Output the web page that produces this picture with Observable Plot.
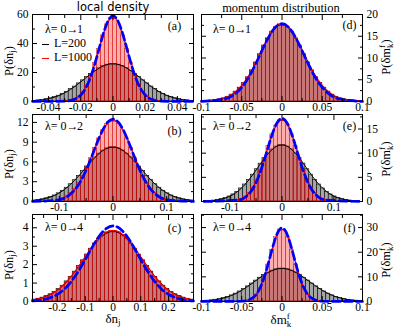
<!DOCTYPE html>
<html><head><meta charset="utf-8">
<script src="https://cdn.jsdelivr.net/npm/d3@7"></script>
<script src="https://cdn.jsdelivr.net/npm/@observablehq/plot@0.6"></script>
<style>
body{margin:0;background:#fff}
#wrap{position:relative;width:395px;height:332px;font-family:"Liberation Serif",serif;color:#000}
#wrap svg{position:absolute;left:0;top:0}
.t{position:absolute;white-space:nowrap;line-height:1}
.rot{transform:translate(-50%,-50%) rotate(-90deg)}
.ctr{transform:translate(-50%,-50%)}
.lft{transform:translate(0,-50%)}
sub{font-size:0.7em;vertical-align:-0.3em;line-height:0}
sup{font-size:0.7em;vertical-align:0.55em;line-height:0}
sub.k{margin-left:-0.33em}
.arr{letter-spacing:-1.5px}
.dash{display:inline-block;width:7px;height:1.5px;vertical-align:middle;margin-right:5px}
</style></head><body><div id="wrap"></div>
<script>
// ---------- data ----------
// panel (a) local density, lambda 0->1
const a_bin = 0.0025;
const a_L200_from = -0.05;
const a_L200 = [0.5,0.8,1.1,1.6,2.2,3.0,4.0,5.3,6.7,8.5,10.3,12.5,14.6,16.9,19.1,21.1,22.9,24.4,25.4,25.9,25.9,25.4,24.4,22.9,21.1,19.1,16.9,14.6,12.5,10.3,8.5,6.7,5.3,4.0,3.0,2.2,1.6,1.1,0.8,0.5];
const a_L1000_from = -0.03;
const a_L1000 = [0.35,0.8,1.8,3.6,6.6,11.4,18.0,26.6,36.2,45.6,53.2,57.4,57.4,53.2,45.6,36.2,26.6,18.0,11.4,6.6,3.6,1.8,0.8,0.35];
const a_thX = [-0.05,-0.03,-0.025,-0.02,-0.0175,-0.015,-0.0125,-0.01,-0.0075,-0.005,-0.0025,0,0.0025,0.005,0.0075,0.01,0.0125,0.015,0.0175,0.02,0.025,0.03,0.05];
const a_thY = [0,0.2,1.1,4.5,8.2,13.8,21.5,30.9,41.1,50.2,56.7,59,56.7,50.2,41.1,30.9,21.5,13.8,8.2,4.5,1.1,0.2,0];

// panel (b) local density, lambda 0->2
const b_bin = 0.0075;
const b_L200_from = -0.15;
const b_L200 = [0.16,0.24,0.34,0.49,0.68,0.92,1.24,1.63,2.09,2.62,3.23,3.89,4.60,5.32,6.02,6.68,7.26,7.73,8.06,8.23,8.23,8.06,7.73,7.26,6.68,6.02,5.32,4.60,3.89,3.23,2.62,2.09,1.63,1.24,0.92,0.68,0.49,0.34,0.24,0.16];
const b_L1000_from = -0.105;
const b_L1000 = [0.28,0.49,0.81,1.28,1.93,2.79,3.87,5.17,6.61,8.12,9.57,10.81,11.75,12.24,12.24,11.75,10.81,9.57,8.12,6.61,5.17,3.87,2.79,1.93,1.28,0.81,0.49,0.28];
const b_thX = [-0.15,-0.1,-0.08,-0.07,-0.06,-0.05,-0.04,-0.03,-0.02,-0.01,0,0.01,0.02,0.03,0.04,0.05,0.06,0.07,0.08,0.1,0.15];
const b_thY = [0,0.26,1.06,1.89,3.11,4.76,6.74,8.84,10.71,12.03,12.5,12.03,10.71,8.84,6.74,4.76,3.11,1.89,1.06,0.26,0];

// panel (c) local density, lambda 0->4
const c_bin = 0.0145;
const c_L200_from = -0.29;
const c_L200 = [0.10,0.15,0.21,0.29,0.39,0.51,0.67,0.86,1.09,1.34,1.62,1.92,2.23,2.54,2.85,3.13,3.38,3.58,3.72,3.79,3.79,3.72,3.58,3.38,3.13,2.85,2.54,2.23,1.92,1.62,1.34,1.09,0.86,0.67,0.51,0.39,0.29,0.21,0.15,0.10];
const c_L1000_from = -0.29;
const c_L1000 = [0.10,0.14,0.20,0.27,0.37,0.50,0.65,0.84,1.07,1.32,1.60,1.91,2.23,2.55,2.87,3.16,3.42,3.62,3.77,3.84,3.84,3.77,3.62,3.42,3.16,2.87,2.55,2.23,1.91,1.60,1.32,1.07,0.84,0.65,0.50,0.37,0.27,0.20,0.14,0.10];
const c_thX = [-0.29,-0.25,-0.225,-0.2,-0.175,-0.15,-0.125,-0.1,-0.075,-0.05,-0.025,0,0.025,0.05,0.075,0.1,0.125,0.15,0.175,0.2,0.225,0.25,0.29];
const c_thY = [0.03,0.10,0.21,0.39,0.67,1.09,1.63,2.27,2.94,3.54,3.95,4.1,3.95,3.54,2.94,2.27,1.63,1.09,0.67,0.39,0.21,0.10,0.03];

// panel (d) momentum distribution, lambda 0->1
const d_bin = 0.005;
const d_L200_from = -0.1;
const d_L200 = [0.1,0.15,0.22,0.33,0.48,0.7,1.05,1.5,2.2,3.1,4.2,5.5,7.1,8.9,10.8,12.7,14.4,15.9,17.0,17.6,17.6,17.0,15.9,14.4,12.7,10.8,8.9,7.1,5.5,4.2,3.1,2.2,1.5,1.05,0.7,0.48,0.33,0.22,0.15,0.1];
const d_L1000_from = -0.1;
const d_L1000 = [0.12,0.17,0.25,0.35,0.5,0.75,1.1,1.6,2.3,3.2,4.3,5.6,7.2,9.0,10.9,12.9,14.6,16.1,17.2,17.8,17.8,17.2,16.1,14.6,12.9,10.9,9.0,7.2,5.6,4.3,3.2,2.3,1.6,1.1,0.75,0.5,0.35,0.25,0.17,0.12];
const d_thX = [-0.1,-0.07,-0.06,-0.05,-0.04,-0.03,-0.02,-0.01,0,0.01,0.02,0.03,0.04,0.05,0.06,0.07,0.1];
const d_thY = [0.02,0.63,1.52,3.22,5.98,9.65,13.6,16.7,17.9,16.7,13.6,9.65,5.98,3.22,1.52,0.63,0.02];

// panel (e) momentum distribution, lambda 0->2
const e_bin = 0.0075;
const e_L200_from = -0.15;
const e_L200 = [0.07,0.13,0.20,0.32,0.48,0.71,1.04,1.46,2.01,2.70,3.52,4.47,5.55,6.67,7.83,8.94,9.93,10.76,11.36,11.66,11.66,11.36,10.76,9.93,8.94,7.83,6.67,5.55,4.47,3.52,2.70,2.01,1.46,1.04,0.71,0.48,0.32,0.20,0.13,0.07];
const e_L1000_from = -0.0975;
const e_L1000 = [0.13,0.27,0.54,1.00,1.76,2.91,4.51,6.57,8.97,11.53,13.91,15.75,16.77,16.77,15.75,13.91,11.53,8.97,6.57,4.51,2.91,1.76,1.00,0.54,0.27,0.13];
const e_thX = [-0.15,-0.08,-0.07,-0.06,-0.05,-0.04,-0.03,-0.02,-0.01,0,0.01,0.02,0.03,0.04,0.05,0.06,0.07,0.08,0.15];
const e_thY = [0,0.38,0.93,2.03,3.89,6.64,10.08,13.55,16.2,17.2,16.2,13.55,10.08,6.64,3.89,2.03,0.93,0.38,0];

// panel (f) momentum distribution, lambda 0->4
const f_bin = 0.005;
const f_L200_from = -0.1;
const f_L200 = [0.21,0.34,0.48,0.71,1.01,1.38,1.86,2.48,3.20,4.07,5.05,6.14,7.29,8.48,9.66,10.76,11.74,12.53,13.08,13.36,13.36,13.08,12.53,11.74,10.76,9.66,8.48,7.29,6.14,5.05,4.07,3.20,2.48,1.86,1.38,1.01,0.71,0.48,0.34,0.21];
const f_L1000_from = -0.05;
const f_L1000 = [0.2,0.53,1.3,2.8,5.5,9.6,15.0,20.9,26.1,29.2,29.2,26.1,20.9,15.0,9.6,5.5,2.8,1.3,0.53,0.2];
const f_thX = [-0.1,-0.05,-0.04,-0.035,-0.03,-0.025,-0.02,-0.015,-0.01,-0.005,0,0.005,0.01,0.015,0.02,0.025,0.03,0.035,0.04,0.05,0.1];
const f_thY = [0,0.1,0.78,1.82,3.83,7.18,12.0,17.9,23.8,28.2,29.9,28.2,23.8,17.9,12.0,7.18,3.83,1.82,0.78,0.1,0];

// tick values
const a_xTicks = [-0.04,-0.02,0,0.02,0.04], a_xMinor = [-0.03,-0.01,0.01,0.03];
const a_yTicks = [0,20,40,60], a_yMinor = [10,30,50];
const b_xTicks = [-0.1,0,0.1], b_xMinor = [-0.05,0.05];
const b_yTicks = [0,3,6,9,12], b_yMinor = [1.5,4.5,7.5,10.5];
const c_xTicks = [-0.2,-0.1,0,0.1,0.2], c_xMinor = [-0.25,-0.15,-0.05,0.05,0.15,0.25];
const c_yTicks = [0,1,2,3,4], c_yMinor = [0.5,1.5,2.5,3.5,4.5];
const d_xTicks = [-0.1,-0.05,0,0.05,0.1], d_xMinor = [-0.075,-0.025,0.025,0.075];
const d_yTicks = [0,5,10,15,20], d_yMinor = [2.5,7.5,12.5,17.5];
const e_xTicks = [-0.1,0,0.1], e_xMinor = [-0.05,0.05];
const e_yTicks = [0,5,10,15], e_yMinor = [2.5,7.5,12.5,17.5];
const f_xTicks = [-0.1,-0.05,0,0.05,0.1], f_xMinor = [-0.075,-0.025,0.025,0.075];
const f_yTicks = [0,10,20,30], f_yMinor = [5,15,25,35];

const lambdaLabels = ["λ= 0→1","λ= 0→2","λ= 0→4","λ= 0→1","λ= 0→2","λ= 0→4"];
const panelTags = ["(a)","(b)","(c)","(d)","(e)","(f)"];
const legendLabels = ["L=200","L=1000"];

// ---------- drawing ----------
const W = 395, H = 332;
const wrap = document.getElementById("wrap");

function makePanel(p) {
  const [L, T, R, B] = p.frame;
  const toBars = (h, from) => h.map((v, i) => ({x1: from + i * p.bin, x2: from + (i + 1) * p.bin, xc: from + (i + 0.5) * p.bin, y: v}));
  const b200 = toBars(p.h200, p.f200);
  const b1000 = toBars(p.h1000, p.f1000);
  const theory = p.thX.map((x, i) => ({x, y: p.thY[i]}));
  const yIn = p.side, yOut = p.side === "left" ? "right" : "left";
  return Plot.plot({
    width: W, height: H,
    marginLeft: L, marginTop: T, marginRight: W - R, marginBottom: H - B,
    x: {domain: p.xdom}, y: {domain: p.ydom},
    style: {background: "transparent", fontFamily: "Liberation Serif", fontSize: "11.5px", overflow: "visible", color: "#000"},
    marks: [
      Plot.rectY(b200, {x1: "x1", x2: "x2", y: "y", fill: "#a6a6a6", stroke: "#000", strokeWidth: 0.6}),
      Plot.rectY(b1000, {x1: "x1", x2: "x2", y: "y", fill: "#ff2a2a", fillOpacity: 0.38, stroke: "#d00000", strokeWidth: 0.6, strokeOpacity: 0.7}),
      Plot.line(b200, {x: "xc", y: "y", stroke: "#000", strokeWidth: 1, curve: "monotone-x"}),
      Plot.line(b1000, {x: "xc", y: "y", stroke: "#ff0000", strokeWidth: 1.2, curve: "monotone-x"}),
      Plot.line(theory, {x: "x", y: "y", stroke: "#0000ff", strokeWidth: 2.7, strokeDasharray: "8,4", curve: "monotone-x"}),
      Plot.frame({stroke: "#000"}),
      Plot.axisX(p.xt, {anchor: "bottom", tickSize: -5, tickPadding: 6, tickFormat: d => String(d), label: null}),
      Plot.axisX(p.xt, {anchor: "top", tickSize: -5, fill: "none", label: null}),
      Plot.axisX(p.xm, {anchor: "bottom", tickSize: -3, fill: "none", label: null}),
      Plot.axisX(p.xm, {anchor: "top", tickSize: -3, fill: "none", label: null}),
      Plot.axisY(p.yt, {anchor: yIn, tickSize: -5, tickPadding: 9, tickFormat: d => String(d), label: null}),
      Plot.axisY(p.yt, {anchor: yOut, tickSize: -5, fill: "none", label: null}),
      Plot.axisY(p.ym, {anchor: yIn, tickSize: -3, fill: "none", label: null}),
      Plot.axisY(p.ym, {anchor: yOut, tickSize: -3, fill: "none", label: null})
    ]
  });
}

const leftCol = [32, 193], rightCol = [201, 362];
const rows = [[14, 101], [114, 201], [214, 301]];

const panels = [
  {h200: a_L200, f200: a_L200_from, h1000: a_L1000, f1000: a_L1000_from, bin: a_bin, thX: a_thX, thY: a_thY,
   xdom: [-0.05, 0.05], ydom: [0, 60], xt: a_xTicks, xm: a_xMinor, yt: a_yTicks, ym: a_yMinor, side: "left",
   frame: [leftCol[0], rows[0][0], leftCol[1], rows[0][1]]},
  {h200: b_L200, f200: b_L200_from, h1000: b_L1000, f1000: b_L1000_from, bin: b_bin, thX: b_thX, thY: b_thY,
   xdom: [-0.15, 0.15], ydom: [0, 13.2], xt: b_xTicks, xm: b_xMinor, yt: b_yTicks, ym: b_yMinor, side: "left",
   frame: [leftCol[0], rows[1][0], leftCol[1], rows[1][1]]},
  {h200: c_L200, f200: c_L200_from, h1000: c_L1000, f1000: c_L1000_from, bin: c_bin, thX: c_thX, thY: c_thY,
   xdom: [-0.29, 0.29], ydom: [0, 4.72], xt: c_xTicks, xm: c_xMinor, yt: c_yTicks, ym: c_yMinor, side: "left",
   frame: [leftCol[0], rows[2][0], leftCol[1], rows[2][1]]},
  {h200: d_L200, f200: d_L200_from, h1000: d_L1000, f1000: d_L1000_from, bin: d_bin, thX: d_thX, thY: d_thY,
   xdom: [-0.1, 0.1], ydom: [0, 20], xt: d_xTicks, xm: d_xMinor, yt: d_yTicks, ym: d_yMinor, side: "right",
   frame: [rightCol[0], rows[0][0], rightCol[1], rows[0][1]]},
  {h200: e_L200, f200: e_L200_from, h1000: e_L1000, f1000: e_L1000_from, bin: e_bin, thX: e_thX, thY: e_thY,
   xdom: [-0.155, 0.155], ydom: [0, 18], xt: e_xTicks, xm: e_xMinor, yt: e_yTicks, ym: e_yMinor, side: "right",
   frame: [rightCol[0], rows[1][0], rightCol[1], rows[1][1]]},
  {h200: f_L200, f200: f_L200_from, h1000: f_L1000, f1000: f_L1000_from, bin: f_bin, thX: f_thX, thY: f_thY,
   xdom: [-0.1, 0.1], ydom: [0, 35.3], xt: f_xTicks, xm: f_xMinor, yt: f_yTicks, ym: f_yMinor, side: "right",
   frame: [rightCol[0], rows[2][0], rightCol[1], rows[2][1]]}
];

panels.forEach(p => wrap.appendChild(makePanel(p)));

// ---------- text overlays ----------
function addText(html, x, y, cls, size, extra) {
  const d = document.createElement("div");
  d.className = "t " + cls;
  d.style.left = x + "px";
  d.style.top = y + "px";
  d.style.fontSize = size + "px";
  if (extra) Object.assign(d.style, extra);
  d.innerHTML = html;
  wrap.appendChild(d);
}

addText("local density", 113, 8, "ctr", 11.5, {fontFamily: "'DejaVu Sans', sans-serif"});
addText("momentum distribution", 281, 8, "ctr", 12.5);

const lamPos = [[45, 29], [45, 126], [45, 227], [213, 29], [213, 126], [213, 227]];
lambdaLabels.forEach((s, i) => addText(s.replace("→", '<span class="arr">→</span>'), lamPos[i][0], lamPos[i][1], "lft", 12));

const tagPos = [[174.5, 26], [174.5, 131], [174.5, 228], [349.5, 25], [349.5, 126], [349.5, 228]];
panelTags.forEach((s, i) => addText(s, tagPos[i][0], tagPos[i][1], "ctr", 12));

addText('<span class="dash" style="background:#000"></span>' + legendLabels[0], 42, 43, "lft", 12);
addText('<span class="dash" style="background:#ff0000"></span>' + legendLabels[1], 42, 57, "lft", 12);

const pn = 'P(δn<sub>j</sub>)';
const pm = 'P(δm<sup>f</sup><sub class="k">k</sub>)';
[[9, 61], [9, 164], [9, 265]].forEach(([x, y]) => addText(pn, x, y, "rot", 12.5));
[[386, 57], [386, 159], [386, 260]].forEach(([x, y]) => addText(pm, x, y, "rot", 12.5));

addText('δn<sub>j</sub>', 113, 318, "ctr", 13);
addText('δm<sup>f</sup><sub class="k">k</sub>', 281, 319, "ctr", 13);
</script></body></html>
